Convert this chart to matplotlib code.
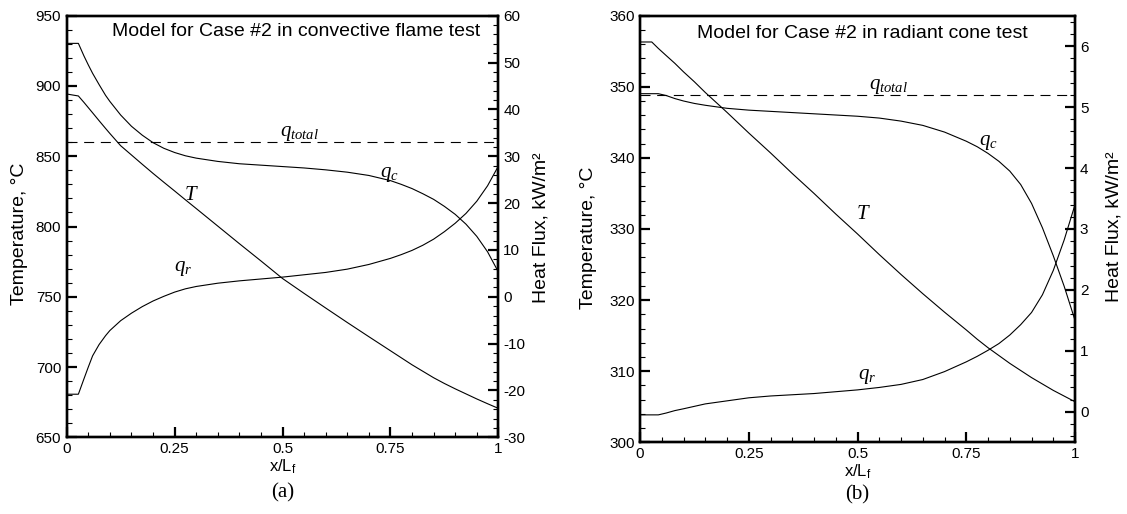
import matplotlib
matplotlib.use("Agg")
import matplotlib.pyplot as plt
from matplotlib.ticker import MultipleLocator

plt.rcParams["font.family"] = ["Liberation Sans", "DejaVu Sans"]
plt.rcParams["axes.unicode_minus"] = False
plt.rcParams["mathtext.fontset"] = "custom"
plt.rcParams["mathtext.it"] = "Liberation Serif:italic"
plt.rcParams["mathtext.rm"] = "Liberation Serif"

# (a) 对流火焰试验
x_a = [0, 0.027, 0.04, 0.05, 0.06, 0.075, 0.09, 0.1, 0.125, 0.15, 0.175, 0.2, 0.225,
       0.25, 0.275, 0.3, 0.35, 0.4, 0.45, 0.5, 0.55, 0.6, 0.65, 0.7, 0.75, 0.775,
       0.8, 0.825, 0.85, 0.875, 0.9, 0.925, 0.95, 0.975, 1.0]
T_a = [894.3, 892.9, 888.3, 884.6, 880.9, 875.3, 869.8, 866.2, 857.5, 850.9, 844.3, 837.8, 831.5,
       825.3, 819.0, 812.8, 800.3, 787.8, 775.5, 763.0, 752.4, 742.0, 731.7, 721.6, 711.6, 706.6,
       701.6, 697.0, 692.4, 688.3, 684.5, 680.9, 677.3, 673.9, 670.6]
qc_a = [54.1, 54.1, 51.4, 49.5, 47.7, 45.3, 43.0, 41.7, 38.8, 36.4, 34.5, 32.9, 31.7,
        30.8, 30.1, 29.6, 28.9, 28.4, 28.1, 27.8, 27.5, 27.1, 26.6, 25.9, 24.8, 24.0,
        23.1, 22.0, 20.8, 19.3, 17.6, 15.5, 12.9, 9.6, 5.3]
qr_a = [-20.8, -20.8, -17.5, -15.0, -12.6, -10.2, -8.3, -7.2, -5.1, -3.5, -2.1, -0.9, 0.1,
        1.0, 1.7, 2.2, 2.9, 3.4, 3.8, 4.2, 4.7, 5.2, 5.9, 6.9, 8.2, 9.0,
        9.9, 11.0, 12.3, 13.9, 15.7, 17.8, 20.4, 23.7, 27.9]
qtotal_a = 33.0

# (b) 辐射锥试验
x_b = [0, 0.027, 0.042, 0.06, 0.08, 0.1, 0.125, 0.15, 0.2, 0.25, 0.3, 0.35, 0.4, 0.45,
       0.5, 0.55, 0.6, 0.65, 0.7, 0.75, 0.775, 0.8, 0.825, 0.85, 0.875, 0.9, 0.925,
       0.95, 0.975, 1.0]
T_b = [356.3, 356.3, 355.4, 354.4, 353.3, 352.1, 350.7, 349.2, 346.4, 343.5, 340.7, 337.8, 335.0, 332.1,
       329.3, 326.4, 323.6, 320.9, 318.3, 315.8, 314.5, 313.3, 312.2, 311.1, 310.1, 309.1, 308.2,
       307.3, 306.5, 305.7]
qc_b = [5.22, 5.22, 5.22, 5.19, 5.14, 5.10, 5.06, 5.03, 4.98, 4.95, 4.93, 4.91, 4.89, 4.87,
        4.85, 4.82, 4.77, 4.70, 4.59, 4.44, 4.35, 4.24, 4.11, 3.95, 3.73, 3.42, 3.02,
        2.56, 2.06, 1.5]
qr_b = [-0.05, -0.05, -0.05, -0.02, 0.02, 0.05, 0.09, 0.13, 0.18, 0.23, 0.26, 0.28, 0.30, 0.33,
        0.36, 0.40, 0.45, 0.53, 0.66, 0.82, 0.91, 1.01, 1.12, 1.26, 1.43, 1.63, 1.92,
        2.32, 2.82, 3.4]
qtotal_b = 5.2

LW = 0.8


def style_axes(ax, ax2):
    for a in (ax, ax2):
        for s in a.spines.values():
            s.set_linewidth(1.7)
    ax.tick_params(axis="y", which="both", direction="in", left=True, right=False, labelsize=11, pad=4)
    ax.tick_params(axis="x", which="both", direction="in", top=False, bottom=True, labelsize=11, pad=3.5)
    ax2.tick_params(axis="y", which="both", direction="in", right=True, left=False, labelsize=11, pad=3.5)
    for a in (ax, ax2):
        a.tick_params(which="major", length=7, width=1.6)
        a.tick_params(which="minor", length=3.6, width=0.8)
    ax.xaxis.set_minor_locator(MultipleLocator(0.05))
    ax.set_xticks([0, 0.25, 0.5, 0.75, 1])
    ax.set_xticklabels(["0", "0.25", "0.5", "0.75", "1"])
    ax.set_xlim(0, 1)
    ax.set_xlabel(r"$\mathregular{x/L_f}$", fontsize=12, labelpad=1)


def q(s):
    return rf"$q_{{{s}}}$"


fig = plt.figure(figsize=(11.27, 5.14), dpi=100)

# ---- (a)
ax = fig.add_axes([0.0592, 0.1492, 0.383, 0.8202])
ax2 = ax.twinx()
ax.plot(x_a, T_a, color="black", lw=LW)
ax2.plot(x_a, qc_a, color="black", lw=LW)
ax2.plot(x_a, qr_a, color="black", lw=LW)
ax2.axhline(qtotal_a, color="black", lw=LW, linestyle=(0, (9, 6)))
ax.set_ylim(650, 950)
ax2.set_ylim(-30, 60)
ax.yaxis.set_major_locator(MultipleLocator(50))
ax.yaxis.set_minor_locator(MultipleLocator(10))
ax2.yaxis.set_major_locator(MultipleLocator(10))
ax2.yaxis.set_minor_locator(MultipleLocator(2))
style_axes(ax, ax2)
ax.set_ylabel("Temperature, °C", fontsize=14)
ax.yaxis.set_label_coords(-0.09, 0.482)
ax2.set_ylabel("Heat Flux, kW/m²", fontsize=14)
ax2.yaxis.set_label_coords(1.08, 0.498)
ax.text(0.531, 0.952, "Model for Case #2 in convective flame test", transform=ax.transAxes,
        ha="center", va="baseline", fontsize=14)
ax.text(0.29, 822.5, "$T$", ha="center", va="center", fontsize=15)
ax.text(0.747, 836.7, q("c"), ha="center", va="center", fontsize=15)
ax.text(0.27, 770.3, q("r"), ha="center", va="center", fontsize=15)
ax.text(0.539, 866.4, q("total"), ha="center", va="center", fontsize=15)
fig.text(0.2506, 1 - 493 / 514, "(a)", ha="center", va="center", fontsize=15, family="Liberation Serif")

# ---- (b)
bx = fig.add_axes([0.5679, 0.1395, 0.386, 0.830])
bx2 = bx.twinx()
bx.plot(x_b, T_b, color="black", lw=LW)
bx2.plot(x_b, qc_b, color="black", lw=LW)
bx2.plot(x_b, qr_b, color="black", lw=LW)
bx2.axhline(qtotal_b, color="black", lw=LW, linestyle=(0, (9, 6)))
bx.set_ylim(300, 360)
bx2.set_ylim(-0.5, 6.5)
bx.yaxis.set_major_locator(MultipleLocator(10))
bx.yaxis.set_minor_locator(MultipleLocator(2))
bx2.yaxis.set_major_locator(MultipleLocator(1))
bx2.yaxis.set_minor_locator(MultipleLocator(0.2))
style_axes(bx, bx2)
bx.set_ylabel("Temperature, °C", fontsize=14)
bx.yaxis.set_label_coords(-0.10, 0.48)
bx2.set_ylabel("Heat Flux, kW/m²", fontsize=14)
bx2.yaxis.set_label_coords(1.069, 0.505)
bx.text(0.51, 0.948, "Model for Case #2 in radiant cone test", transform=bx.transAxes,
        ha="center", va="baseline", fontsize=14)
bx.text(0.572, 350.0, q("total"), ha="center", va="center", fontsize=15)
bx.text(0.80, 342.1, q("c"), ha="center", va="center", fontsize=15)
bx.text(0.514, 332.2, "$T$", ha="center", va="center", fontsize=15)
bx.text(0.522, 309.2, q("r"), ha="center", va="center", fontsize=15)
fig.text(0.7607, 1 - 495 / 514, "(b)", ha="center", va="center", fontsize=15, family="Liberation Serif")

fig.savefig("out.png", dpi=100)
